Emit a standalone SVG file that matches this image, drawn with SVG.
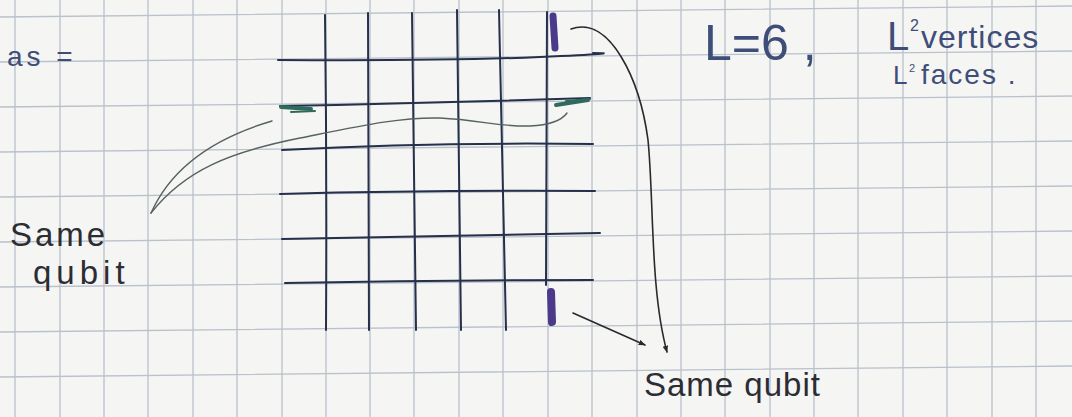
<svg xmlns="http://www.w3.org/2000/svg" width="1072" height="417" viewBox="0 0 1072 417">
<style>
.paper{stroke:#b9c1cb;stroke-width:1.3;fill:none}
.ink{stroke:#26304a;stroke-width:2;fill:none;stroke-linecap:round;stroke-linejoin:round}
.pencil{stroke:#56625f;stroke-width:1.4;fill:none;stroke-linecap:round}
.arc{stroke:#2a2a2e;stroke-width:1.6;fill:none;stroke-linecap:round}
.green{stroke:#2f6a5c;fill:none;stroke-linecap:round}
.purple{stroke:#4b3a8a;fill:none;stroke-linecap:round}
.hand{font-family:"Liberation Sans",Arial,sans-serif;fill:#2b2d33}
.blue{font-family:"Liberation Sans",Arial,sans-serif;fill:#3f4e78}
</style>
<defs>
<marker id="ah" viewBox="0 0 10 10" refX="9" refY="5" markerWidth="7" markerHeight="7" orient="auto" markerUnits="userSpaceOnUse">
<path d="M0,1 L10,5 L0,9 Z" fill="#2a2a2e"/>
</marker>
</defs>
<rect width="1072" height="417" fill="#f5f5f3"/>
<g id="paper-grid" class="paper">
<path d="M15,0V417M60,0V417M104,0V417M148,0V417M193,0V417M237,0V417M282,0V417M326,0V417M370,0V417M414,0V417M459,0V417M503,0V417M548,0V417M592,0V417M637,0V417M681,0V417M725,0V417M770,0V417M814,0V417M858,0V417M903,0V417M947,0V417M992,0V417M1036,0V417"/>
<path d="M0,17L1072,6M0,62L1072,51M0,107L1072,96M0,152L1072,141M0,197L1072,186M0,242L1072,231M0,287L1072,276M0,332L1072,321M0,377L1072,366"/>
</g>
<g id="lattice" class="ink">
<path d="M325,15 Q327,170 326,330"/>
<path d="M368,13 Q369,170 369,330"/>
<path d="M412,13 Q414,170 416,330"/>
<path d="M457,10 Q459,170 461,330"/>
<path d="M499,10 Q502,170 506,330"/>
<path d="M547,12 Q546,150 546,285"/>
<path d="M278,60 Q450,61 540,57 T593,53"/>
<path d="M280,106 Q430,103 590,98"/>
<path d="M282,150 Q427,142 593,144"/>
<path d="M280,194 Q430,190 595,191"/>
<path d="M282,239 Q440,236 600,233"/>
<path d="M285,283 Q440,280 593,280"/>
</g>
<g id="mark-left-green">
<path class="green" stroke-width="4" d="M281,107 L311,109"/>
<path class="green" stroke-width="2" d="M291,112 L315,111"/>
</g>
<g id="mark-right-green">
<path class="green" stroke-width="4" d="M556,105 L588,100"/>
<path class="green" stroke-width="2" d="M566,101 L590,99"/>
</g>
<g id="mark-top-purple">
<path class="purple" stroke-width="7" d="M553,16 L555,48"/>
</g>
<g id="mark-bottom-purple">
<path class="purple" stroke-width="8" d="M551,292 L552,322"/>
</g>
<g id="label-as">
<text class="blue" x="7" y="66" font-size="28" letter-spacing="4" fill="#4a556a">as =</text>
</g>
<g id="label-L6">
<text class="blue" x="704" y="60" font-size="50">L=6 ,</text>
</g>
<g id="label-vertices">
<text class="blue" x="887" y="50" font-size="40">L</text>
<text class="blue" x="910" y="31" font-size="16">2</text>
<text class="blue" x="921" y="48" font-size="32" letter-spacing="1">vertices</text>
</g>
<g id="label-faces">
<text class="blue" x="893" y="84" font-size="26">L</text>
<text class="blue" x="909" y="72" font-size="11">2</text>
<text class="blue" x="921" y="84" font-size="28" letter-spacing="2">faces .</text>
</g>
<g id="label-same-qubit-left">
<text class="hand" x="10" y="246" font-size="33" letter-spacing="3">Same</text>
<text class="hand" x="33" y="284" font-size="33" letter-spacing="5">qubit</text>
</g>
<g id="label-same-qubit-right">
<text class="hand" x="644" y="396" font-size="33" letter-spacing="1">Same qubit</text>
</g>
<g id="connectors">
<path class="pencil" d="M151,213 Q180,148 272,121"/>
<path class="pencil" d="M151,213 C185,170 230,152 300,138 C360,126 400,117 440,118 C480,120 500,127 530,126 C550,125 562,120 567,113"/>
<path class="arc" d="M571,29 C610,15 640,80 648,140 C654,200 650,290 667,352" marker-end="url(#ah)"/>
<path class="arc" d="M573,313 L645,345" marker-end="url(#ah)"/>
</g>
</svg>
